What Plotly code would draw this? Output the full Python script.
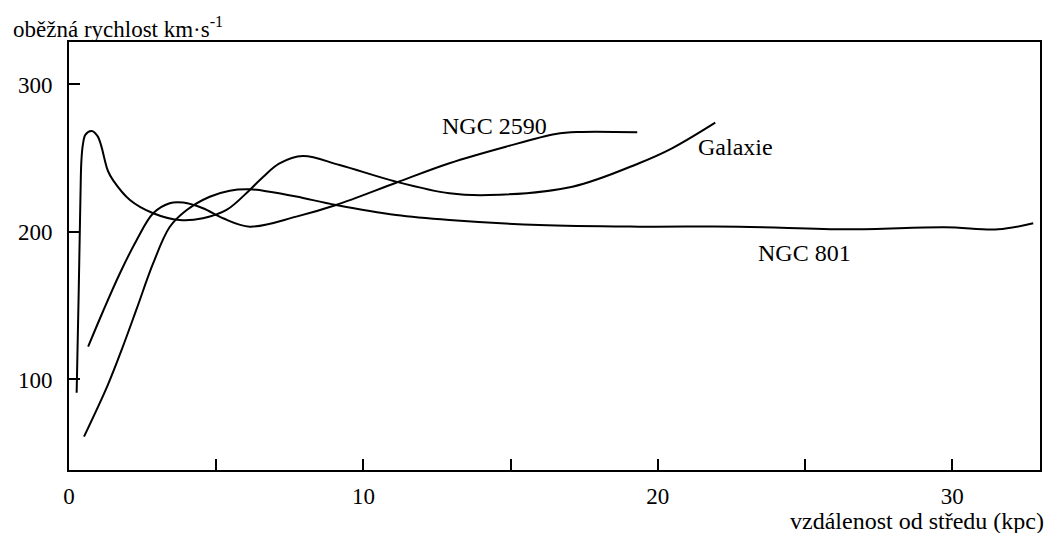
import plotly.graph_objects as go

# Galaxie (Milky Way) rotation curve
gal_x = [0.26, 0.33, 0.39, 0.42, 0.47, 0.56, 0.77, 0.97, 1.10, 1.20, 1.32, 1.50, 2.07, 2.86, 3.76,
         4.55, 5.35, 6.14, 6.60, 7.15, 7.94, 9.19, 11.11, 12.92, 14.27, 17.1, 19.36, 20.48, 21.95]
gal_y = [91, 160, 225, 248, 259, 266, 268.5, 265, 258, 250, 241.5, 235, 221.7, 212.7, 208.1,
         209.3, 214.9, 228.5, 237.5, 246.5, 251.5, 245.4, 234.1, 226.2, 225, 230.7, 246.6, 256.7, 274.1]

# NGC 2590
n2590_x = [0.65, 1.16, 1.73, 2.30, 2.86, 3.42, 3.88, 4.55, 5.23, 6.14, 7.72, 9.07, 11.11, 12.92,
           14.84, 16.53, 17.32, 19.3]
n2590_y = [122.2, 146.4, 172.0, 194.6, 212.7, 219.5, 219.9, 216.1, 209.3, 203.6, 210.4, 218.3,
           233.4, 246.6, 257.8, 266.4, 267.8, 267.6]

# NGC 801
n801_x = [0.51, 1.32, 1.80, 2.31, 2.85, 3.42, 4.00, 4.78, 5.46, 6.14, 6.81, 7.72, 9.07, 11.11,
          12.92, 15.97, 19.36, 22.75, 26.47, 29.75, 31.56, 32.75]
n801_y = [61.2, 96.3, 120.7, 148.5, 178.3, 203.4, 214.9, 223.9, 228.0, 228.9, 227.3, 224, 218.3,
          211.5, 208.1, 204.7, 203.6, 203.6, 201.8, 203.2, 201.8, 205.9]

x_tickvals = [0, 5, 10, 15, 20, 25, 30]
x_ticktext = ["0", "", "10", "", "20", "", "30"]
y_tickvals = [100, 200, 300]

labels = ["NGC 2590", "Galaxie", "NGC 801"]
label_x = [14.46, 22.63, 24.98]
label_y = [271.9, 257.8, 185.6]

FONT = "Liberation Serif"

fig = go.Figure()
for xs, ys in [(gal_x, gal_y), (n2590_x, n2590_y), (n801_x, n801_y)]:
    fig.add_trace(go.Scatter(x=xs, y=ys, mode="lines",
                             line=dict(color="black", width=2, shape="spline", smoothing=1.0),
                             showlegend=False, hoverinfo="skip"))

for t, lx, ly in zip(labels, label_x, label_y):
    fig.add_annotation(x=lx, y=ly, text=t, showarrow=False,
                       font=dict(family=FONT, size=24, color="black"))

fig.add_annotation(xref="paper", yref="paper", x=(11 - 69) / 973, y=(470 - 11) / 428,
                   xanchor="left", yanchor="top", showarrow=False,
                   text="oběžná rychlost km·s<sup>-1</sup>",
                   font=dict(family=FONT, size=23, color="black"))
fig.add_annotation(xref="paper", yref="paper", x=(1048 - 69) / 973, y=(470 - 521) / 428,
                   xanchor="right", yanchor="middle", showarrow=False,
                   text="vzdálenost od středu (kpc)",
                   font=dict(family=FONT, size=24, color="black"))

fig.update_layout(
    width=1042, height=525,
    margin=dict(l=61, r=8, t=34, b=63),
    paper_bgcolor="white", plot_bgcolor="white",
    font=dict(family=FONT, size=22, color="black"),
    xaxis=dict(range=[0, 32.98], tickvals=x_tickvals, ticktext=x_ticktext,
               ticks="inside", ticklen=11, tickwidth=2, tickcolor="black",
               showline=True, linecolor="black", linewidth=2, mirror=True,
               showgrid=False, zeroline=False, ticklabelstandoff=4,
               tickfont=dict(family=FONT, size=23)),
    yaxis=dict(range=[38.6, 328.8], tickvals=y_tickvals,
               ticks="inside", ticklen=11, tickwidth=2, tickcolor="black",
               showline=True, linecolor="black", linewidth=2, mirror=True,
               showgrid=False, zeroline=False, ticklabelstandoff=10,
               tickfont=dict(family=FONT, size=23)),
)

fig.write_html("out.html")
